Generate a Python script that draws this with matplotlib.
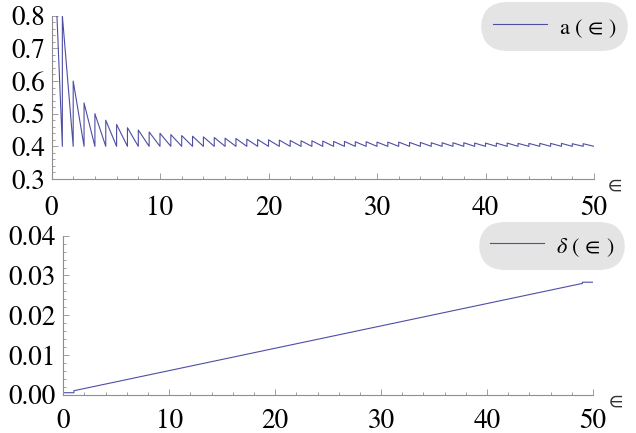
import matplotlib
matplotlib.use("Agg")
import matplotlib.pyplot as plt
from matplotlib.ticker import MultipleLocator, FixedLocator, FixedFormatter

# ---------------- data ----------------
# a(eps): sawtooth, jumps at integer eps up to a peak, falls back to 0.40
a_start = (0.5, 0.80)
a_trough = 0.40
a_peaks = [0.800, 0.600, 0.533, 0.500, 0.480, 0.467, 0.457, 0.450, 0.444, 0.440,
           0.436, 0.433, 0.431, 0.429, 0.427, 0.425, 0.424, 0.422, 0.421, 0.420,
           0.419, 0.418, 0.417, 0.417, 0.416, 0.415, 0.415, 0.414, 0.414, 0.413,
           0.413, 0.413, 0.412, 0.412, 0.411, 0.411, 0.411, 0.411, 0.410, 0.410,
           0.410, 0.410, 0.409, 0.409, 0.409, 0.409, 0.409, 0.408, 0.408]
a_end_eps = 50

# delta(eps)
delta_eps = [0, 1, 1, 49, 49, 50]
delta_vals = [0.0005, 0.0005, 0.0010, 0.0280, 0.0283, 0.0283]

x_ticks = [0, 10, 20, 30, 40, 50]
x_ticklabels = ["0", "10", "20", "30", "40", "50"]
top_yticks = [0.3, 0.4, 0.5, 0.6, 0.7, 0.8]
top_yticklabels = ["0.3", "0.4", "0.5", "0.6", "0.7", "0.8"]
bot_yticks = [0.00, 0.01, 0.02, 0.03, 0.04]
bot_yticklabels = ["0.00", "0.01", "0.02", "0.03", "0.04"]

legend_a = r"$\mathrm{a}\,\,(\,\in\,)$"
legend_d = r"$\delta\,\,(\,\in\,)$"
axis_label = r"$\in$"

# ---------------- build polyline for a ----------------
a_x = [a_start[0]]
a_y = [a_start[1]]
for n, pk in enumerate(a_peaks, start=1):
    a_x += [n, n]
    a_y += [a_trough, pk]
a_x.append(a_end_eps)
a_y.append(a_trough)

# ---------------- style ----------------
plt.rcParams['font.family'] = ['STIXGeneral', 'Liberation Serif', 'DejaVu Serif']
plt.rcParams['mathtext.fontset'] = 'stix'

line_color = '#4e4ea3'
axis_color = '#8f8f8f'
legend_bg = '#e4e4e4'
tick_fs = 19.5
leg_fs = 16

fig = plt.figure(figsize=(6.36, 4.33), dpi=100)
ax1 = fig.add_axes([51.5/636, 1-179/433, (594-51.5)/636, (179-15.7)/433])
ax2 = fig.add_axes([63.3/636, 1-394.7/433, (593-63.3)/636, (394.7-235.7)/433])


def style(ax, yticks, ylabels, yminor, xpad, ypad):
    for s in ('top', 'right'):
        ax.spines[s].set_visible(False)
    for s in ('left', 'bottom'):
        ax.spines[s].set_color(axis_color)
        ax.spines[s].set_linewidth(0.8)
    ax.set_xlim(0, 50)
    ax.xaxis.set_major_locator(FixedLocator(x_ticks))
    ax.xaxis.set_major_formatter(FixedFormatter(x_ticklabels))
    ax.xaxis.set_minor_locator(MultipleLocator(2))
    ax.yaxis.set_major_locator(FixedLocator(yticks))
    ax.yaxis.set_major_formatter(FixedFormatter(ylabels))
    ax.yaxis.set_minor_locator(MultipleLocator(yminor))
    ax.tick_params(which='both', direction='in', color=axis_color, width=0.6,
                   labelsize=tick_fs, labelcolor='black')
    ax.tick_params(which='major', length=4.2)
    ax.tick_params(which='minor', length=2.3)
    ax.tick_params(axis='x', which='major', pad=xpad)
    ax.tick_params(axis='y', which='major', pad=ypad)
    ax.set_facecolor('none')


ax1.plot(a_x, a_y, color=line_color, lw=0.8, label=legend_a, clip_on=True)
ax1.set_ylim(0.3, 0.8)
style(ax1, top_yticks, top_yticklabels, 0.02, 12, 4.5)

ax2.plot(delta_eps, delta_vals, color=line_color, lw=0.8, label=legend_d)
ax2.set_ylim(0.0, 0.04)
style(ax2, bot_yticks, bot_yticklabels, 0.002, 10.5, 5.5)

for ax, (lx, ly) in ((ax1, (1.035, -0.040)), (ax2, (1.040, -0.046))):
    ax.set_xlabel(axis_label, fontsize=15, color='#333333')
    ax.xaxis.set_label_coords(lx, ly)
    ax.xaxis.label.set_va('center')
    ax.xaxis.label.set_ha('center')

for ax, (cx, cy) in ((ax1, (554.5/636, 1-26.5/433)), (ax2, (552/636, 1-246/433))):
    leg = ax.legend(loc='center', bbox_to_anchor=(cx, cy), bbox_transform=fig.transFigure,
                    fontsize=leg_fs, frameon=True, fancybox=True, framealpha=1,
                    handlelength=2.43, handletextpad=0.54, borderpad=0.5,
                    handleheight=1.4, borderaxespad=0)
    fr = leg.get_frame()
    fr.set_facecolor(legend_bg)
    fr.set_edgecolor('none')
    fr.set_boxstyle('round,pad=0,rounding_size=1.2')

fig.savefig('out.png', dpi=100)
